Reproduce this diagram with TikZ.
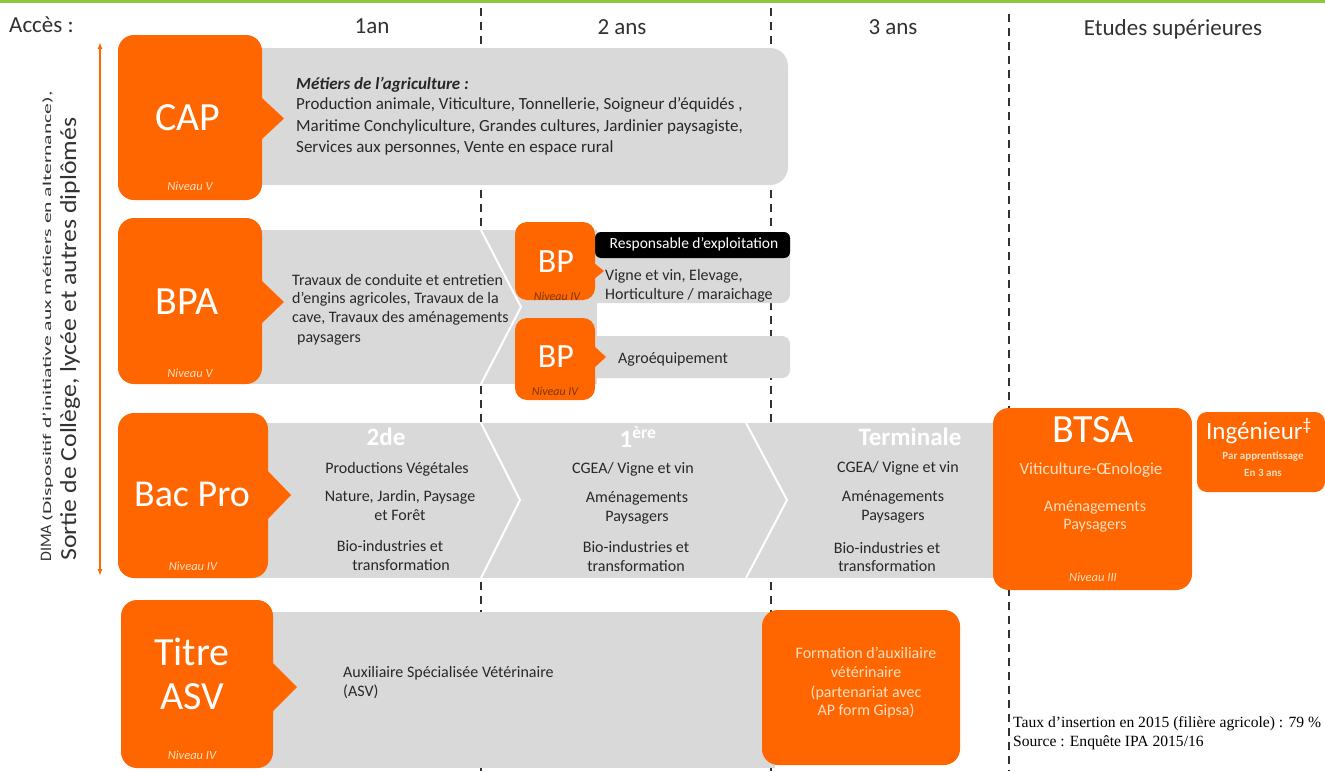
\documentclass[tikz,border=0pt]{standalone}
\usepackage{fontspec}
\setmainfont{Carlito}
\newfontfamily\timesf{Liberation Serif}
\usetikzlibrary{arrows.meta}
\definecolor{org}{RGB}{255,102,0}
\definecolor{gry}{RGB}{217,217,217}
\definecolor{txt}{RGB}{40,40,40}
\definecolor{hdr}{RGB}{50,50,50}
\definecolor{grn}{RGB}{141,198,63}
\definecolor{lvl}{RGB}{255,222,195}
\definecolor{lvd}{RGB}{120,55,10}
\tikzset{
  obox/.style={fill=org, draw=none, rounded corners=16pt, inner sep=0pt},
  big/.style={text=white, inner sep=0pt, font=\fontsize{40}{40}\selectfont},
  lvlt/.style={text=lvl, inner sep=0pt, font=\itshape\fontsize{12.5}{12.5}\selectfont},
  lvdk/.style={text=lvd, inner sep=0pt, font=\itshape\fontsize{12}{12}\selectfont},
  hd/.style={text=hdr, inner sep=0pt, font=\fontsize{23}{23}\selectfont},
  bl/.style={text=txt, inner sep=0pt, anchor=base west, font=\fontsize{16}{16}\selectfont},
  blc/.style={text=txt, inner sep=0pt, anchor=base west, font=\fontsize{17}{17}\selectfont},
  bc/.style={text=txt, inner sep=0pt, anchor=base, font=\fontsize{16}{16}\selectfont},
  wc/.style={text=lvl, inner sep=0pt, anchor=base, font=\fontsize{16}{16}\selectfont},
  yr/.style={text=white, inner sep=0pt, font=\bfseries\fontsize{25}{25}\selectfont},
  dline/.style={hdr, line width=1.6pt, dash pattern=on 8pt off 6pt},
  chev/.style={white, line width=2pt},
}
\begin{document}
\begin{tikzpicture}[x=1pt,y=-1pt]
\useasboundingbox (0,0) rectangle (1325,771);
\fill[white] (0,0) rectangle (1325,771);
\fill[grn] (0,0) rectangle (1325,3);

% column separators
\coordinate (s1t) at (481,8);   \coordinate (s1b) at (481,771);
\coordinate (s2t) at (771,8);   \coordinate (s2b) at (771,771);
\coordinate (s3t) at (1009,14); \coordinate (s3b) at (1009,771);
\draw[dline] (s1t) -- (s1b);
\draw[dline] (s2t) -- (s2b);
\draw[dline, line width=2pt] (s3t) -- (s3b);

% headers
\node[hd, anchor=west] (acces) at (9,25) {Accès :};
\node[hd] (h1) at (372,26) {1an};
\node[hd] (h2) at (622,27) {2 ans};
\node[hd] (h3) at (893,27) {3 ans};
\node[hd] (h4) at (1173,29) {Etudes supérieures};

% left arrow and texts
\coordinate (la) at (100,42);
\coordinate (lb) at (100,576);
\draw[org, line width=1.5pt, {Latex[length=7pt,width=5pt]}-{Latex[length=7pt,width=5pt]}] (lb) -- (la);
\node[rotate=90, anchor=base west, inner sep=0pt, text=hdr, font=\fontsize{16}{16}\selectfont] (dima) at (51,562)
  {DIMA \scalebox{1.8}[1]{\fontsize{12}{12}\selectfont(Dispositif d’initiative aux métiers en alternance),}};
\node[rotate=90, anchor=base west, inner sep=0pt, text=hdr, font=\fontsize{23}{23}\selectfont] (sortie) at (76,561)
  {\scalebox{1.12}[1]{Sortie de Collège, lycée et autres diplômés}};

% ---------- CAP ----------
\fill[gry, rounded corners=18pt] (240,48) rectangle (788,185);
\node[obox, minimum width=144pt, minimum height=165pt] (cap) at (190,117.5) {};
\fill[org] (261,97) -- (284,118.5) -- (261,140) -- cycle;
\node[big] (capt) at (188,118) {CAP};
\node[lvlt] (capn) at (190,186) {Niveau V};
\node[blc] (c1) at (296,89) {\textbf{\textit{Métiers de l’agriculture :}}};
\node[blc] (c2) at (296,109) {Production animale, Viticulture, Tonnellerie, Soigneur d’équidés ,};
\node[blc] (c3) at (296,131) {Maritime Conchyliculture, Grandes cultures, Jardinier paysagiste,};
\node[blc] (c4) at (296,152) {Services aux personnes, Vente en espace rural};

% ---------- BPA ----------
\fill[gry] (240,230) rectangle (597,384);
\draw[chev] (481,230) -- (521,307) -- (481,384);
\node[obox, minimum width=144pt, minimum height=166pt] (bpa) at (190,301) {};
\fill[org] (261,280) -- (284,302) -- (261,324) -- cycle;
\node[big] (bpat) at (187,302) {BPA};
\node[lvlt] (bpan) at (190,373) {Niveau V};
\node[bl] (b1) at (292,285) {Travaux de conduite et entretien};
\node[bl] (b2) at (292,303) {d’engins agricoles, Travaux de la};
\node[bl] (b3) at (292,322) {cave, Travaux des aménagements};
\node[bl] (b4) at (297,342) {paysagers};

% BP 1
\fill[gry, rounded corners=9pt] (585,232) rectangle (790,303);
\fill[black, rounded corners=6pt] (595,232) -- (790,232) -- (790,258) -- (595,258) -- cycle;
\node[obox, rounded corners=12pt, minimum width=80pt, minimum height=78pt] (bp1) at (555,261) {};
\fill[org] (594,263) -- (604,271) -- (594,279) -- cycle;
\node[big, font=\fontsize{34}{34}\selectfont] (bp1t) at (556,262) {BP};
\node[lvdk] (bp1n) at (557,296) {Niveau IV};
\node[inner sep=0pt, text=white, font=\fontsize{15.5}{15.5}\selectfont] (resp) at (694,244) {Responsable d’exploitation};
\node[bl] (p1) at (605,280) {Vigne et vin, Elevage,};
\node[bl] (p2) at (605,299) {Horticulture / maraichage};

% BP 2
\fill[gry, rounded corners=8pt] (585,336) rectangle (790,378);
\node[obox, rounded corners=12pt, minimum width=80pt, minimum height=82pt] (bp2) at (555,359) {};
\fill[org] (594,346) -- (606,357) -- (594,368) -- cycle;
\node[big, font=\fontsize{34}{34}\selectfont] (bp2t) at (556,357) {BP};
\node[lvdk] (bp2n) at (555,391) {Niveau IV};
\node[bl] (p3) at (618,363) {Agroéquipement};

% ---------- Bac Pro ----------
\fill[gry] (245,423) rectangle (1000,578);
\draw[chev] (481,423) -- (520,500) -- (481,578);
\draw[chev] (746,423) -- (787,500) -- (746,578);
\node[obox, minimum width=150pt, minimum height=165pt] (bac) at (193,495.5) {};
\fill[org] (267,470) -- (291,495) -- (267,520) -- cycle;
\node[big, font=\fontsize{38}{38}\selectfont] (bact) at (192,494) {Bac Pro};
\node[lvlt] (bacn) at (193,566) {Niveau IV};

\node[yr] (y2) at (386,437) {2de};
\node[bc] (a1) at (397,473.5) {Productions Végétales};
\node[bc] (a2) at (400,501.5) {Nature, Jardin, Paysage};
\node[bc] (a3) at (400,520.5) {et Forêt};
\node[bc] (a4) at (390,551.5) {Bio-industries et};
\node[bc] (a5) at (401,570.5) {transformation};

\node[yr] (y1) at (638,437) {1\textsuperscript{ère}};
\node[bc] (e1) at (633,473.5) {CGEA/ Vigne et vin};
\node[bc] (e2) at (637,502.5) {Aménagements};
\node[bc] (e3) at (637,521.5) {Paysagers};
\node[bc] (e4) at (636,552.5) {Bio-industries et};
\node[bc] (e5) at (636,571.5) {transformation};

\node[yr] (yt) at (910,437) {Terminale};
\node[bc] (t1) at (898,472.5) {CGEA/ Vigne et vin};
\node[bc] (t2) at (893,501.5) {Aménagements};
\node[bc] (t3) at (893,520.5) {Paysagers};
\node[bc] (t4) at (887,553.5) {Bio-industries et};
\node[bc] (t5) at (887,571.5) {transformation};

% ---------- BTSA ----------
\node[obox, minimum width=199pt, minimum height=182pt] (btsa) at (1092.5,499) {};
\node[big] (btsat) at (1093,430) {BTSA};
\node[wc, font=\fontsize{17}{17}\selectfont] (bt1) at (1091,474) {Viticulture-Œnologie};
\node[wc] (bt2) at (1095,511.5) {Aménagements};
\node[wc] (bt3) at (1095,529.5) {Paysagers};
\node[lvlt] (btn) at (1093,577) {Niveau III};

% ---------- Ingenieur ----------
\node[obox, rounded corners=10pt, minimum width=128pt, minimum height=80pt] (ing) at (1261,452) {};
\node[inner sep=0pt, text=white, font=\fontsize{25}{25}\selectfont] (ingt) at (1259,431) {Ingénieur\textsuperscript{‡}};
\node[wc, font=\bfseries\fontsize{11}{11}\selectfont] (i1) at (1263,459) {Par apprentissage};
\node[wc, font=\bfseries\fontsize{11}{11}\selectfont] (i2) at (1263,476) {En 3 ans};

% ---------- Titre ASV ----------
\fill[gry] (250,612) rectangle (775,768);
\node[obox, minimum width=152pt, minimum height=168pt] (asv) at (197,684) {};
\fill[org] (272,662) -- (297,687) -- (272,712) -- cycle;
\node[big] (asv1) at (192,652) {Titre};
\node[big] (asv2) at (192,697) {ASV};
\node[lvlt] (asvn) at (192,755) {Niveau IV};
\node[bl] (v1) at (343,677) {Auxiliaire Spécialisée Vétérinaire};
\node[bl] (v2) at (343,696) {(ASV)};

% ---------- Formation ----------
\node[obox, minimum width=198pt, minimum height=155pt] (form) at (861,687.5) {};
\node[wc] (f1) at (866,658.5) {Formation d’auxiliaire};
\node[wc] (f2) at (866,677.5) {vétérinaire};
\node[wc] (f3) at (866,697.5) {(partenariat avec};
\node[wc] (f4) at (866,715.5) {AP form Gipsa)};

% ---------- note ----------
\node[inner sep=0pt, anchor=base west, font=\timesf\fontsize{15.6}{15.6}\selectfont] (n1) at (1013,727) {Taux d’insertion en 2015 (filière agricole) : 79 \%};
\node[inner sep=0pt, anchor=base west, font=\timesf\fontsize{15.6}{15.6}\selectfont] (n2) at (1013,746) {Source : Enquête IPA 2015/16};
\end{tikzpicture}
\end{document}
